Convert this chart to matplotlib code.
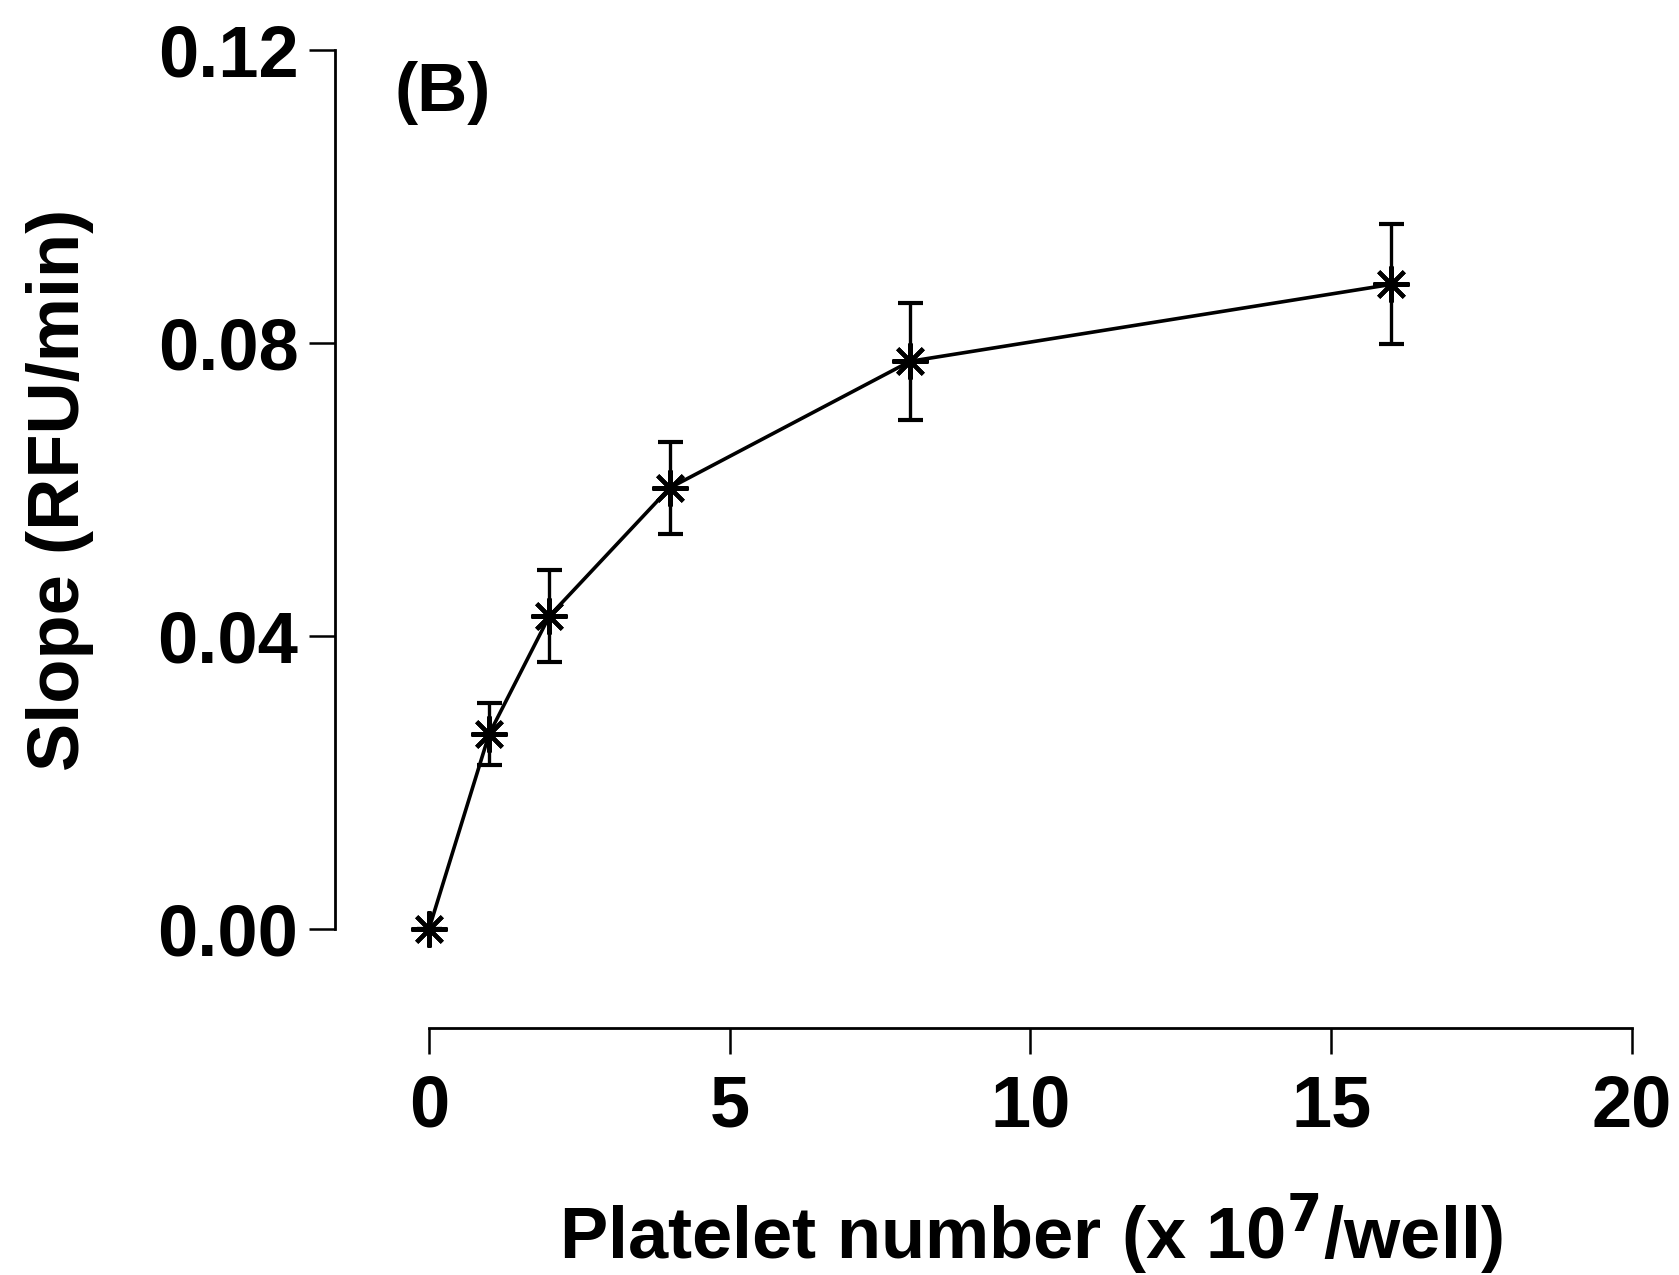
import matplotlib
matplotlib.use('Agg')
import matplotlib.pyplot as plt

matplotlib.rcParams.update({'font.family': 'Liberation Sans', 'font.weight': 'bold'})

# Platelet number (x 10^7/well) and measured slope (RFU/min)
platelets = [0, 1, 2, 4, 8, 16]
slope = [0.0, 0.0266, 0.0427, 0.0602, 0.0775, 0.0880]
slope_err = [0.0, 0.0042, 0.0063, 0.0063, 0.0080, 0.0082]

x_ticks = [0, 5, 10, 15, 20]
y_ticks = [0.00, 0.04, 0.08, 0.12]

fig = plt.figure(figsize=(16.79, 12.75), dpi=100)
ax = fig.add_axes([0.2555, 0.2714, 0.7165, 0.6894])

ax.errorbar(platelets, slope, yerr=slope_err, color='black', linewidth=2.6,
            marker=(8, 2, 0), markersize=26, markeredgewidth=3,
            capsize=9, capthick=2.4, elinewidth=2.4, clip_on=False, zorder=3)

ax.set_xlim(0, 20)
ax.set_ylim(0, 0.12)
ax.set_xticks(x_ticks)
ax.set_yticks(y_ticks)
ax.set_yticklabels([f'{v:.2f}' for v in y_ticks])

ax.spines['top'].set_visible(False)
ax.spines['right'].set_visible(False)
# offsets in points (about 95 px and 99 px)
ax.spines['left'].set_position(('outward', 68))
ax.spines['bottom'].set_position(('outward', 71))
for s in ['left', 'bottom']:
    ax.spines[s].set_linewidth(2.0)
ax.tick_params(axis='both', length=19, width=1.8, labelsize=52)
ax.tick_params(axis='y', pad=7)
ax.tick_params(axis='x', pad=14)

ax.set_xlabel('Platelet number (x 10$^{\\mathbf{7}}$/well)', fontsize=52, fontweight='bold', labelpad=36)
ax.set_ylabel('Slope (RFU/min)', fontsize=52, fontweight='bold', labelpad=46)
ax.text(-0.029, 0.9875, '(B)', transform=ax.transAxes, fontsize=50, fontweight='bold', va='top', ha='left')

fig.savefig('out.png', dpi=100)
